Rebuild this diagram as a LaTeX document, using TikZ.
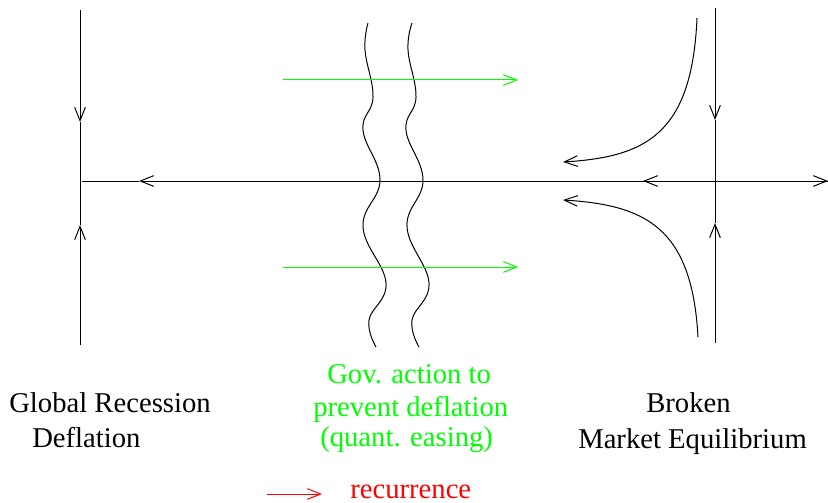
\documentclass[tikz,border=0pt]{standalone}
\usepackage{fontspec}
\setmainfont{Liberation Serif}
\usetikzlibrary{arrows.meta}
\definecolor{xgreen}{RGB}{0,255,0}
\definecolor{xred}{RGB}{255,0,0}
\begin{document}
\begin{tikzpicture}[x=0.75pt,y=-0.75pt,
  ln/.style={line width=0.75pt,black},
  barb/.style={-{Straight Barb[length=10pt,width=8pt,line width=0.75pt]}},
  lbl/.style={inner sep=0pt,anchor=base west,font=\fontsize{21.5}{26}\selectfont}]
\useasboundingbox (0,0) rectangle (828,503);
% left vertical axis
\coordinate (LT) at (80,10);
\coordinate (LA) at (80,122);
\coordinate (LB) at (80,345);
\coordinate (LC) at (80,225);
\draw[ln,barb] (LT) -- (LA);
\draw[ln] (LA) -- (LC);
\draw[ln,barb] (LB) -- (LC);
% horizontal axis
\coordinate (H0) at (82,181);
\coordinate (H1) at (139,181);
\coordinate (H2) at (643,181);
\coordinate (H3) at (828,181);
\draw[ln,barb] (H2) -- (H1);
\draw[ln] (H1) -- (H0);
\draw[ln,barb] (H3) -- (H2);
\draw[ln,barb] (H2) -- (H3);
% right vertical axis
\coordinate (RT) at (715,8);
\coordinate (RA) at (715,120);
\coordinate (RB) at (715,343);
\coordinate (RC) at (715,223);
\draw[ln,barb] (RT) -- (RA);
\draw[ln] (RA) -- (RC);
\draw[ln,barb] (RB) -- (RC);
% hyperbolic trajectories
\coordinate (U0) at (697,18);
\coordinate (U1) at (563,162);
\coordinate (D0) at (698,337);
\coordinate (D1) at (563,200);
\draw[ln,barb] (U0) .. controls (692,135) and (645,157) .. (U1);
\draw[ln,barb] (D0) .. controls (692,227) and (645,205) .. (D1);
% wavy barriers
\draw[ln] plot[smooth,tension=0.7] coordinates {(368,23) (365,50) (373,97) (363,130) (380,180) (363,227) (386,283) (369,320) (376,347)};
\draw[ln] plot[smooth,tension=0.7] coordinates {(412,23) (408,50) (416,97) (406,130) (423,180) (407,227) (429,283) (412,320) (419,347)};
% green arrows
\coordinate (G1a) at (283,80);
\coordinate (G1b) at (518,80);
\coordinate (G2a) at (283,267);
\coordinate (G2b) at (518,267);
\draw[line width=0.75pt,xgreen,barb] (G1a) -- (G1b);
\draw[line width=0.75pt,xgreen,barb] (G2a) -- (G2b);
% labels
\node[lbl] (t1) at (9,412) {Global Recession};
\node[lbl] (t2) at (32,447) {Deflation};
\node[lbl,text=xgreen] (g1) at (327,383) {Gov. action to};
\node[lbl,text=xgreen] (g2) at (313,416) {prevent deflation};
\node[lbl,text=xgreen] (g3) at (320,446) {(quant. easing)};
\node[lbl] (b1) at (646,412) {Broken};
\node[lbl] (b2) at (578,448) {Market Equilibrium};
% legend
\coordinate (R0) at (267,494);
\coordinate (R1) at (322,494);
\draw[line width=0.75pt,xred,barb] (R0) -- (R1);
\node[lbl,text=xred] (rec) at (350,498) {recurrence};
\end{tikzpicture}
\end{document}
